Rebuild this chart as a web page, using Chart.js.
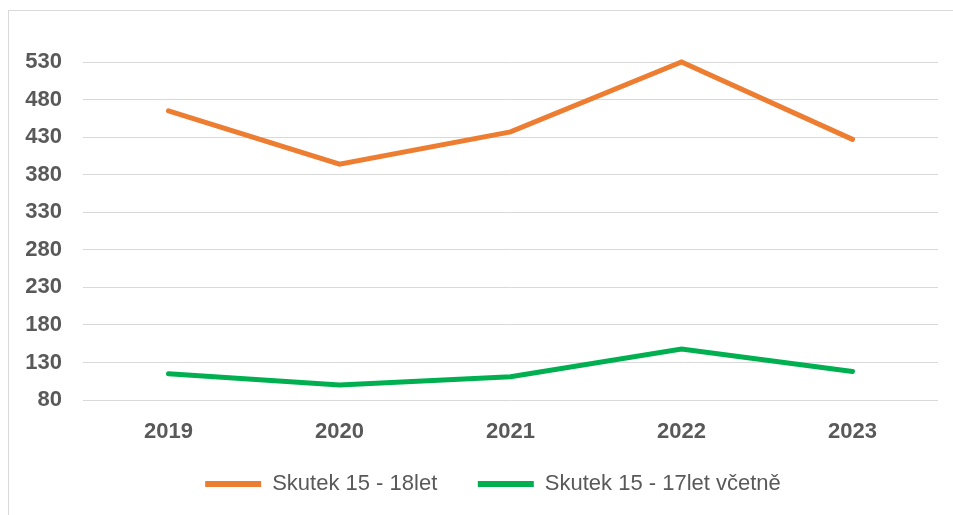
<!DOCTYPE html>
<html>
<head>
<meta charset="utf-8">
<script src="https://cdn.jsdelivr.net/npm/chart.js@4"></script>
<style>
  html,body{margin:0;padding:0;background:#fff;overflow:hidden;}
  #frame{position:absolute;left:8px;top:10px;width:1000px;height:1000px;border:1px solid #d9d9d9;}
  #wrap{position:absolute;left:0;top:0;width:953px;height:515px;}
</style>
</head>
<body>
<div id="frame"></div>
<div id="wrap"><canvas id="lineChart"></canvas></div>
<script>
const years=['2019','2020','2021','2022','2023'];
const skutek18=[465,394,437,530,427];
const skutek17=[115,100,111,148,118];
const yMin=80, yMax=530, yStep=50;

const textGray='#595959';

// legend in the original sits a bit right of the canvas centre
const shiftLegend={
  id:'shiftLegend',
  afterLayout:(chart)=>{
    if(chart.legend){
      chart.legend.left+=24;
      chart.legend.right+=24;
    }
  }
};

const loadLineChart=()=>{
  const ctx=document.getElementById('lineChart');
  new Chart(ctx,{
    type:'line',
    data:{
      labels:years,
      datasets:[{
        label:'Skutek 15 - 18let',
        data:skutek18,
        borderColor:'#ED7D31',
        backgroundColor:'#ED7D31',
        borderWidth:5,
        borderCapStyle:'round',
        pointRadius:0,
        tension:0,
        clip:8
      },{
        label:'Skutek 15 - 17let včetně',
        data:skutek17,
        borderColor:'#00B050',
        backgroundColor:'#00B050',
        borderWidth:5,
        borderCapStyle:'round',
        pointRadius:0,
        tension:0,
        clip:8
      }]
    },
    plugins:[shiftLegend],
    options:{
      responsive:true,
      maintainAspectRatio:false,
      animation:false,
      layout:{padding:{top:62,right:15,bottom:10,left:0}},
      plugins:{
        tooltip:{enabled:false},
        legend:{
          position:'bottom',
          labels:{
            boxWidth:56,
            boxHeight:6,
            padding:10,
            color:textGray,
            font:{family:'Liberation Sans',size:22},
            generateLabels:(chart)=>{
              return Chart.defaults.plugins.legend.labels.generateLabels(chart).map((l,i)=>{
                l.lineWidth=0;
                l.strokeStyle=l.fillStyle;
                // extra gap after the first entry, as in the original legend
                if(i===0) l.text=l.text+'\u00a0\u00a0\u00a0\u00a0\u00a0';
                return l;
              });
            }
          }
        }
      },
      scales:{
        x:{
          offset:true,
          grid:{display:false},
          border:{display:false},
          ticks:{
            color:textGray,
            padding:11,
            font:{family:'Liberation Sans',size:22,weight:'bold'}
          },
          afterFit:(axis)=>{axis.height=63;}
        },
        y:{
          min:yMin,
          max:yMax,
          border:{display:false},
          grid:{color:'#d9d9d9',lineWidth:1,drawTicks:false},
          ticks:{
            stepSize:yStep,
            color:textGray,
            padding:21,
            font:{family:'Liberation Sans',size:22,weight:'bold'}
          },
          afterFit:(axis)=>{axis.width=83;}
        }
      }
    }
  });
};

loadLineChart();
</script>
</body>
</html>
